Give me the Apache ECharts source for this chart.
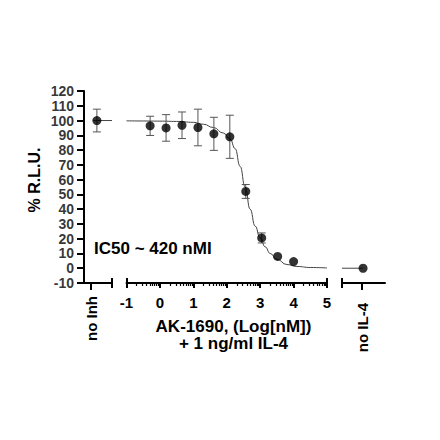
<!DOCTYPE html>
<html><head><meta charset="utf-8">
<script src="https://cdn.jsdelivr.net/npm/echarts@6/dist/echarts.min.js"></script>
<style>html,body{margin:0;padding:0;background:#fff}#c{width:440px;height:440px}</style>
</head><body><div id="c"></div>
<script>
// ---- data ----
const logConc   = [-0.293, 0.184, 0.661, 1.138, 1.615, 2.092, 2.569, 3.046, 3.523, 4.0];
const response  = [96.4, 95.0, 96.8, 95.3, 91.0, 89.0, 52.0, 20.5, 8.0, 4.5];
const errorSEM  = [6.5, 9.0, 9.0, 12.4, 11.2, 14.6, 4.7, 3.4, 0, 0];

const curveX = [-1.0, -0.5, 0.0, 0.5, 1.0, 1.3, 1.6, 1.9, 2.1, 2.25, 2.4, 2.55, 2.7, 2.85, 3.0, 3.15, 3.3, 3.5, 3.8, 4.1, 4.5, 5.0];
const curveY = [99.8, 99.7, 99.6, 99.4, 98.8, 97.5, 95.3, 91.5, 87.5, 81, 69, 55, 40, 28.5, 20.5, 14.5, 10, 6, 2.5, 1.2, 0.5, 0.2];

const controlLabels   = ['no Inh', 'no IL-4'];
const controlX        = [0.46, 0.49];
const controlTickX    = [0.25, 0.47];
const controlResponse = [100, 0];
const controlSEM      = [7.7, 0];
const controlCurveX   = [[0.33, 1.0], [0.0, 0.49]];
const controlCurveY   = [100, 0];

const xTickValues = [-1, 0, 1, 2, 3, 4, 5];
const yTickValues = [-10, 0, 10, 20, 30, 40, 50, 60, 70, 80, 90, 100, 110, 120];
const yMin = -10, yMax = 120, yStep = 10;

const xTitle = 'AK-1690, (Log[nM])\n+ 1 ng/ml IL-4';
const yTitle = '% R.L.U.';
const annotation = 'IC50 ~ 420 nMI';

// ---- derived ----
const minorTicks = [];
for (let d = -1; d < 5; d++) for (let k = 2; k <= 9; k++) minorTicks.push(d + Math.log10(k));

const FONT = 'Liberation Sans';
const black = '#000';

function capAxis(grid, min, max, vals, inside, len) {
  return {
    type: 'value', gridIndex: grid, min: min, max: max, position: 'bottom',
    axisLine: { show: false, onZero: false },
    axisTick: { show: true, inside: inside, length: len, customValues: vals, lineStyle: { color: black, width: 2 } },
    axisLabel: { show: false }, splitLine: { show: false }
  };
}

const labelStyle = { color: black, fontFamily: FONT, fontWeight: 'bold', fontSize: 15 };

const xAxes = [
  { type: 'value', gridIndex: 0, min: 0, max: 1, position: 'bottom',
    axisLine: { show: true, onZero: false, lineStyle: { color: black, width: 2 } },
    axisTick: { show: true, length: 7, customValues: [controlTickX[0]], lineStyle: { color: black, width: 2 } },
    axisLabel: Object.assign({ customValues: [controlTickX[0]], rotate: 90, margin: 13, formatter: () => controlLabels[0] }, labelStyle),
    splitLine: { show: false } },
  capAxis(0, 0, 1, [1], false, 5),
  capAxis(0, 0, 1, [1], true, 5),
  { type: 'value', gridIndex: 1, min: -1, max: 5, interval: 1, position: 'bottom',
    axisLine: { show: true, onZero: false, lineStyle: { color: black, width: 2 } },
    axisTick: { show: true, length: 5, customValues: xTickValues, lineStyle: { color: black, width: 2 } },
    axisLabel: Object.assign({ customValues: xTickValues, margin: 12, showMinLabel: true, showMaxLabel: true }, labelStyle),
    splitLine: { show: false } },
  { type: 'value', gridIndex: 1, min: -1, max: 5, position: 'bottom',
    axisLine: { show: false, onZero: false },
    axisTick: { show: true, length: 3, customValues: minorTicks, lineStyle: { color: black, width: 1.2 } },
    axisLabel: { show: false }, splitLine: { show: false } },
  capAxis(1, -1, 5, [-1, 5], true, 5),
  { type: 'value', gridIndex: 2, min: 0, max: 1, position: 'bottom',
    axisLine: { show: true, onZero: false, lineStyle: { color: black, width: 2 } },
    axisTick: { show: true, length: 7, customValues: [controlTickX[1]], lineStyle: { color: black, width: 2 } },
    axisLabel: Object.assign({ customValues: [controlTickX[1]], rotate: 90, margin: 20, formatter: () => controlLabels[1] }, labelStyle),
    splitLine: { show: false } },
  capAxis(2, 0, 1, [0], false, 5),
  capAxis(2, 0, 1, [0], true, 5)
];

const yAxes = [0, 1, 2].map(g => ({
  type: 'value', gridIndex: g, min: yMin, max: yMax, interval: yStep, show: g === 0,
  axisLine: { show: true, onZero: false, lineStyle: { color: black, width: 2 } },
  axisTick: { show: true, length: 7, lineStyle: { color: black, width: 2 } },
  axisLabel: { show: false },
  splitLine: { show: false }
}));

function errRender(params, api) {
  const x = api.value(0), y = api.value(1), e = api.value(2);
  if (!e) return null;
  const t = api.coord([x, y + e]), b = api.coord([x, y - e]);
  const hw = 4, st = { stroke: '#555', lineWidth: 1 };
  return { type: 'group', children: [
    { type: 'line', shape: { x1: t[0], y1: t[1], x2: b[0], y2: b[1] }, style: st },
    { type: 'line', shape: { x1: t[0] - hw, y1: t[1], x2: t[0] + hw, y2: t[1] }, style: st },
    { type: 'line', shape: { x1: b[0] - hw, y1: b[1], x2: b[0] + hw, y2: b[1] }, style: st }
  ]};
}

const series = [];
series.push({ type: 'scatter', xAxisIndex: 0, yAxisIndex: 0, data: yTickValues.map(v => [0, v]),
  symbolSize: 0, silent: true, clip: false,
  label: { show: true, position: 'left', distance: 10, formatter: p => String(p.value[1]),
    color: black, fontFamily: FONT, fontWeight: 'bold', fontSize: 14 } });
series.push({ type: 'line', xAxisIndex: 3, yAxisIndex: 1, data: curveX.map((x, i) => [x, curveY[i]]),
  smooth: true, smoothMonotone: 'x', showSymbol: false, lineStyle: { color: '#444', width: 1 }, z: 1, silent: true });
series.push({ type: 'custom', xAxisIndex: 3, yAxisIndex: 1, renderItem: errRender,
  data: logConc.map((x, i) => [x, response[i], errorSEM[i]]), z: 2, silent: true });
series.push({ type: 'scatter', xAxisIndex: 3, yAxisIndex: 1, data: logConc.map((x, i) => [x, response[i]]),
  symbolSize: 9, itemStyle: { color: black }, z: 3, silent: true });
const ctrlAxes = [[0, 0], [6, 2]];
ctrlAxes.forEach(([xa, ya], c) => {
  series.push({ type: 'line', xAxisIndex: xa, yAxisIndex: ya,
    data: controlCurveX[c].map(x => [x, controlCurveY[c]]), showSymbol: false,
    lineStyle: { color: '#444', width: 1 }, z: 1, silent: true });
  series.push({ type: 'custom', xAxisIndex: xa, yAxisIndex: ya, renderItem: errRender,
    data: [[controlX[c], controlResponse[c], controlSEM[c]]], z: 2, silent: true });
  series.push({ type: 'scatter', xAxisIndex: xa, yAxisIndex: ya, data: [[controlX[c], controlResponse[c]]],
    symbolSize: 9, itemStyle: { color: black }, z: 3, silent: true });
});

const chart = echarts.init(document.getElementById('c'), null, { renderer: 'svg' });
chart.setOption({
  backgroundColor: '#fff',
  animation: false,
  grid: [
    { left: 84, top: 91, width: 28, height: 192 },
    { left: 126.5, top: 91, width: 200.5, height: 192 },
    { left: 342, top: 91, width: 43, height: 192 }
  ],
  xAxis: xAxes,
  yAxis: yAxes,
  series: series,
  graphic: [
    { type: 'text', x: 233.5, y: 335, style: { text: xTitle, align: 'center', verticalAlign: 'middle', lineHeight: 17,
      fill: black, font: 'bold 17px "Liberation Sans"' } },
    { type: 'text', x: 94, y: 248, style: { text: annotation, align: 'left', verticalAlign: 'middle',
      fill: black, font: 'bold 17px "Liberation Sans"' } },
    { type: 'text', x: 34, y: 180, rotation: Math.PI / 2, style: { text: yTitle, align: 'center', verticalAlign: 'middle',
      fill: black, font: 'bold 16px "Liberation Sans"' } }
  ]
});
</script></body></html>
